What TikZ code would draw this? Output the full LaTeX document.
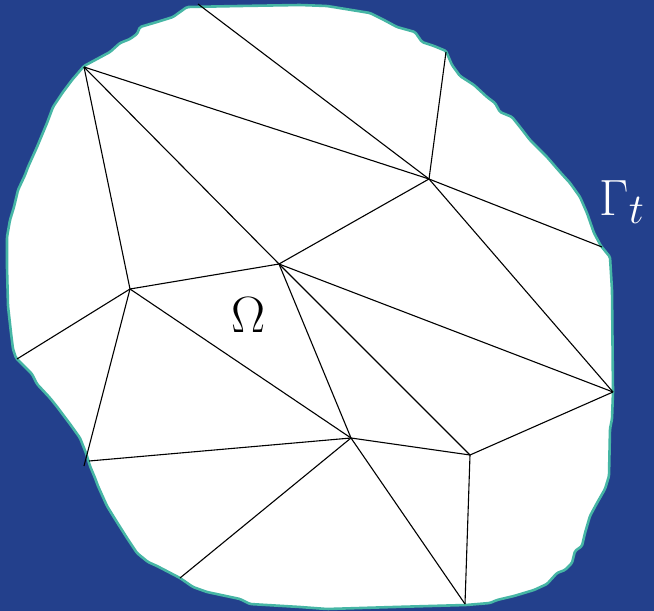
\documentclass[tikz,border=0pt]{standalone}
\definecolor{bgblue}{RGB}{35,64,140}
\definecolor{rimteal}{RGB}{70,182,165}
\begin{document}
\begin{tikzpicture}[x=1pt,y=-1pt,
  meshline/.style={draw=black,line width=1.1pt},
  rim/.style={draw=rimteal,line width=2.6pt,line join=round},
  lbl/.style={inner sep=0pt,font=\Huge,scale=2.05}]
\fill[bgblue] (0,0) rectangle (654,611);
\useasboundingbox (0,0) rectangle (654,611);
% domain
\filldraw[fill=white,rim,rounded corners=1.5pt]
 (187,7)--(240,6)--(300,5)--(327,6)--(370,13)--(384,20)--(397,27)--(415,32)--(422,42)--(434,46)--(446,51)--(452,65)--(460,76)--(474,85)--(487,97)--(495,103)--(500,112)--(512,117)--(520,127)--(530,140)--(547,157)--(560,172)--(570,183)--(580,197)--(587,213)--(594,233)--(601,246)--(610,257)--(612,290)--(613,392)--(612,419)--(610,429)--(609,476)--(605,489)--(597,503)--(590,516)--(585,533)--(582,546)--(575,551)--(572,563)--(565,570)--(557,573)--(547,584)--(534,590)--(514,596)--(497,600)--(490,603)--(466,605)--(394,607)--(327,609)--(300,607)--(250,604)--(240,599)--(207,592)--(193,587)--(180,578)--(157,566)--(148,562)--(137,553)--(127,538)--(115,519)--(107,506)--(98,486)--(95,478)--(90,466)--(86,453)--(80,438)--(70,424)--(58,408)--(50,398)--(37,384)--(32,374)--(16,358)--(13,349)--(11,333)--(8,306)--(7,267)--(7,237)--(10,220)--(14,207)--(18,190)--(25,175)--(28,167)--(37,147)--(42,135)--(47,123)--(53,107)--(63,92)--(72,80)--(84,66)--(97,59)--(110,52)--(120,43)--(130,39)--(137,34)--(140,27)--(157,22)--(173,17)--(180,12)--cycle;
% vertices
\coordinate (A) at (198,4);
\coordinate (B) at (84,67);
\coordinate (C) at (429,179);
\coordinate (D) at (446,52);
\coordinate (E) at (602,247);
\coordinate (F) at (279,264);
\coordinate (G) at (130,289);
\coordinate (H) at (17,359);
\coordinate (I) at (84,466);
\coordinate (Ib) at (89,461);
\coordinate (J) at (351,438);
\coordinate (K) at (470,455);
\coordinate (L) at (613,392);
\coordinate (M) at (465,604);
\coordinate (N) at (180,578);
% mesh
\draw[meshline] (A)--(C);
\draw[meshline] (B)--(C);
\draw[meshline] (B)--(F);
\draw[meshline] (B)--(G);
\draw[meshline] (D)--(C);
\draw[meshline] (C)--(E);
\draw[meshline] (C)--(F);
\draw[meshline] (C)--(L);
\draw[meshline] (F)--(L);
\draw[meshline] (F)--(K);
\draw[meshline] (F)--(J);
\draw[meshline] (F)--(G);
\draw[meshline] (G)--(H);
\draw[meshline] (G)--(I);
\draw[meshline] (G)--(J);
\draw[meshline] (Ib)--(J);
\draw[meshline] (N)--(J);
\draw[meshline] (J)--(K);
\draw[meshline] (J)--(M);
\draw[meshline] (K)--(M);
\draw[meshline] (K)--(L);
% labels
\node[lbl,anchor=base] (omega) at (249,332) {$\Omega$};
\node[lbl,anchor=base west,text=white] (gamma) at (599,215) {$\Gamma_t$};
\end{tikzpicture}
\end{document}
